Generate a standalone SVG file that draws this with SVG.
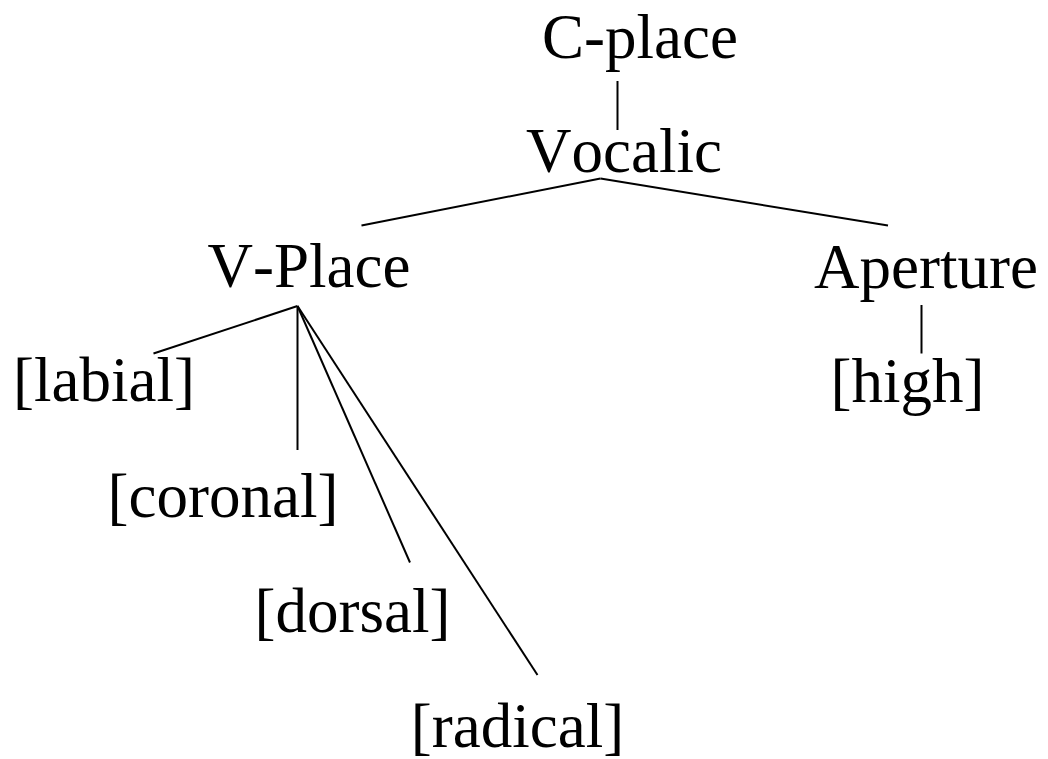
<svg xmlns="http://www.w3.org/2000/svg" width="1048" height="759" viewBox="0 0 1048 759">
<style>
text{font-family:"Liberation Serif","Times New Roman",serif;font-size:63px;fill:#000;text-anchor:middle;font-kerning:none}
line{stroke:#000;stroke-width:2;fill:none}
</style>
<rect width="1048" height="759" fill="#fff"/>
<g id="connectors">
<line x1="617.5" y1="81" x2="617.5" y2="130"/>
<line x1="600.5" y1="178.5" x2="361.5" y2="225.5"/>
<line x1="600.5" y1="178.5" x2="888" y2="225.5"/>
<line x1="921.5" y1="305" x2="921.5" y2="353.5"/>
<line x1="297.5" y1="306" x2="153.5" y2="353.5"/>
<line x1="297.5" y1="306" x2="297.5" y2="450"/>
<line x1="297.5" y1="306" x2="410" y2="562.5"/>
<line x1="297.5" y1="306" x2="537.5" y2="675"/>
</g>
<g id="n-cplace"><text x="640" y="57.5">C-place</text></g>
<g id="n-vocalic"><text x="624" y="172">Vocalic</text></g>
<g id="n-vplace"><text x="309" y="287">V-Place</text></g>
<g id="n-aperture"><text x="926" y="288">Aperture</text></g>
<g id="n-high"><text x="907.5" y="401.5">[high]</text></g>
<g id="n-labial"><text x="104" y="401">[labial]</text></g>
<g id="n-coronal"><text x="223" y="516.5">[coronal]</text></g>
<g id="n-dorsal"><text x="352.5" y="631.5">[dorsal]</text></g>
<g id="n-radical"><text x="517.5" y="746.5">[radical]</text></g>
</svg>
